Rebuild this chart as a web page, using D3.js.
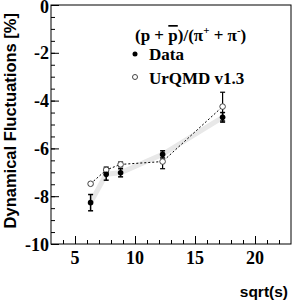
<!DOCTYPE html>
<html lang="en">
<head>
<meta charset="utf-8">
<title>Dynamical fluctuations</title>
<script src="https://d3js.org/d3.v7.min.js"></script>
<style>
  body { margin: 0; background: #fff; }
  svg { display: block; }
</style>
</head>
<body>
<script>
// energies (sqrt(s) in GeV)
var sqrtS = [6.3, 7.6, 8.8, 12.3, 17.3];
// measured data and stat. errors
var dataVals = [-8.27, -7.08, -7.02, -6.25, -4.7];
var dataErr = [0.34, 0.25, 0.17, 0.15, 0.2];
// UrQMD v1.3 model
var urqmdVals = [-7.48, -6.9, -6.67, -6.55, -4.25];
var urqmdErr = [0.05, 0.12, 0.1, 0.3, 0.6];
var xTicks = [5, 10, 15, 20];
var yTicks = [0, -2, -4, -6, -8, -10];

var w = 292, h = 300;
// plot frame (window.top is reserved, so other names)
var padL = 51, padR = 291, padT = 5, padB = 244;

var x = d3.scaleLinear().domain([3, 23]).range([padL, padR]);
var y = d3.scaleLinear().domain([-10, 0]).range([padB, padT]);

var svg = d3.select("body").append("svg")
  .attr("width", w).attr("height", h);

// frame
svg.append("rect")
  .attr("x", padL).attr("y", padT)
  .attr("width", padR - padL).attr("height", padB - padT)
  .attr("fill", "none").attr("stroke", "#000").attr("stroke-width", 1);

// x axis: ticks pointing inward
svg.append("g").attr("transform", "translate(0," + padB + ")")
  .call(d3.axisTop(x).tickValues(d3.range(4, 23, 1)).tickSize(4).tickFormat(""))
  .call(function (g) { g.select(".domain").remove(); });
svg.append("g").attr("transform", "translate(0," + padB + ")")
  .call(d3.axisTop(x).tickValues(xTicks).tickSize(8).tickFormat(""))
  .call(function (g) { g.select(".domain").remove(); });
svg.append("g").selectAll("text").data(xTicks).enter().append("text")
  .attr("x", function (d) { return x(d); })
  .attr("y", 264)
  .attr("text-anchor", "middle")
  .attr("font-family", "Liberation Serif")
  .attr("font-weight", "bold")
  .attr("font-size", 18)
  .text(function (d) { return d; });

// y axis
svg.append("g").attr("transform", "translate(" + padL + ",0)")
  .call(d3.axisRight(y).tickValues(d3.range(-9.5, 0, 0.5)).tickSize(4).tickFormat(""))
  .call(function (g) { g.select(".domain").remove(); });
svg.append("g").attr("transform", "translate(" + padL + ",0)")
  .call(d3.axisRight(y).tickValues(yTicks).tickSize(8).tickFormat(""))
  .call(function (g) { g.select(".domain").remove(); });
svg.append("g").selectAll("text").data(yTicks).enter().append("text")
  .attr("x", 49)
  .attr("y", function (d) { return Math.max(y(d) + 6.5, 13); })
  .attr("text-anchor", "end")
  .attr("font-family", "Liberation Serif")
  .attr("font-weight", "bold")
  .attr("font-size", 18)
  .text(function (d) { return d; });

// axis titles
svg.append("text")
  .attr("transform", "translate(16,13) rotate(-90)")
  .attr("text-anchor", "end")
  .attr("font-family", "Liberation Sans")
  .attr("font-weight", "bold")
  .attr("font-size", 16.5)
  .text("Dynamical Fluctuations [%]");
svg.append("text")
  .attr("x", 288).attr("y", 297)
  .attr("text-anchor", "end")
  .attr("font-family", "Liberation Sans")
  .attr("font-weight", "bold")
  .attr("font-size", 15.5)
  .text("sqrt(s)");

var pts = sqrtS.map(function (s, i) {
  return { s: s, d: dataVals[i], de: dataErr[i], u: urqmdVals[i], ue: urqmdErr[i] };
});

// grey band along data
svg.append("path")
  .datum(pts)
  .attr("fill", "none")
  .attr("stroke", "#e8e8e8")
  .attr("stroke-width", 5)
  .attr("d", d3.line().x(function (d) { return x(d.s); }).y(function (d) { return y(d.d); }));

// UrQMD dotted line
svg.append("path")
  .datum(pts)
  .attr("fill", "none")
  .attr("stroke", "#000")
  .attr("stroke-width", 1)
  .attr("stroke-dasharray", "2,2")
  .attr("d", d3.line().x(function (d) { return x(d.s); }).y(function (d) { return y(d.u); }));

function errBars(key, ekey, sw) {
  var g = svg.append("g").attr("stroke", "#000").attr("stroke-width", sw);
  pts.forEach(function (p) {
    var cx = x(p.s), y1 = y(p[key] + p[ekey]), y2 = y(p[key] - p[ekey]);
    g.append("line").attr("x1", cx).attr("x2", cx).attr("y1", y1).attr("y2", y2);
    g.append("line").attr("x1", cx - 2.5).attr("x2", cx + 2.5).attr("y1", y1).attr("y2", y1);
    g.append("line").attr("x1", cx - 2.5).attr("x2", cx + 2.5).attr("y1", y2).attr("y2", y2);
  });
}
errBars("u", "ue", 1.2);
errBars("d", "de", 1.5);

// markers
svg.append("g").selectAll("circle").data(pts).enter().append("circle")
  .attr("cx", function (d) { return x(d.s); })
  .attr("cy", function (d) { return y(d.u); })
  .attr("r", 2.8)
  .attr("fill", "#fff").attr("stroke", "#444").attr("stroke-width", 1);
svg.append("g").selectAll("circle").data(pts).enter().append("circle")
  .attr("cx", function (d) { return x(d.s); })
  .attr("cy", function (d) { return y(d.d); })
  .attr("r", 2.8)
  .attr("fill", "#000");

// legend
var title = svg.append("text")
  .attr("x", 135).attr("y", 41)
  .attr("font-family", "Liberation Serif")
  .attr("font-weight", "bold")
  .attr("font-size", 17);
title.append("tspan").text("(p + ");
title.append("tspan").style("text-decoration", "overline").text("p");
title.append("tspan").text(")/(\u03c0");
title.append("tspan").attr("dy", -7).attr("font-size", 11).text("+");
title.append("tspan").attr("dy", 7).text(" + \u03c0");
title.append("tspan").attr("dy", -7).attr("font-size", 11).text("-");
title.append("tspan").attr("dy", 7).text(")");

svg.append("circle").attr("cx", 135).attr("cy", 54).attr("r", 2.5).attr("fill", "#000");
svg.append("circle").attr("cx", 135).attr("cy", 77).attr("r", 2.5)
  .attr("fill", "#fff").attr("stroke", "#444").attr("stroke-width", 1);
svg.append("text")
  .attr("x", 149).attr("y", 60)
  .attr("font-family", "Liberation Serif").attr("font-weight", "bold").attr("font-size", 17)
  .text("Data");
svg.append("text")
  .attr("x", 149).attr("y", 84)
  .attr("font-family", "Liberation Serif").attr("font-weight", "bold").attr("font-size", 17)
  .text("UrQMD v1.3");
</script>
</body>
</html>
